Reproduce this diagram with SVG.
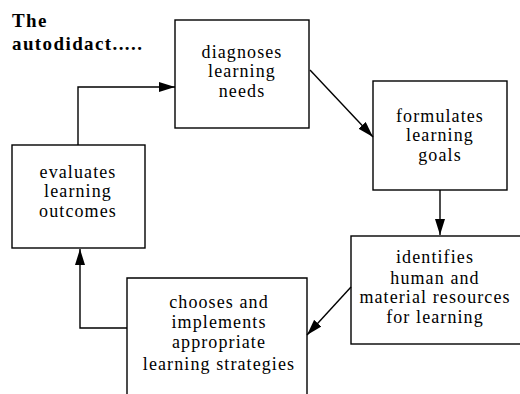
<svg xmlns="http://www.w3.org/2000/svg" width="520" height="394" viewBox="0 0 520 394">
<defs>
<marker id="ah" viewBox="0 0 16 10" refX="16" refY="5" markerWidth="16" markerHeight="10" markerUnits="userSpaceOnUse" orient="auto">
<path d="M0,0 L16,5 L0,10 Z" fill="#000"/>
</marker>
</defs>
<style>
.box{fill:#fff;stroke:#000;stroke-width:1.4}
.lbl{font-family:"Liberation Serif","Times New Roman",serif;font-size:18px;letter-spacing:1.1px;text-anchor:middle;fill:#000}
.ttl{font-family:"Liberation Serif","Times New Roman",serif;font-size:19px;font-weight:bold;letter-spacing:1.4px;fill:#000}
.con{fill:none;stroke:#000;stroke-width:1.4}
</style>
<rect width="520" height="394" fill="#fff"/>
<g id="title">
<text class="ttl" x="12" y="27">The</text>
<text class="ttl" x="12" y="50">autodidact.....</text>
</g>
<g id="diagnoses">
<rect class="box" x="175" y="20" width="134" height="108"/>
<text class="lbl" x="242" y="58">diagnoses</text>
<text class="lbl" x="242" y="77">learning</text>
<text class="lbl" x="242" y="97">needs</text>
</g>
<g id="formulates">
<rect class="box" x="373" y="81" width="134" height="109"/>
<text class="lbl" x="440" y="122">formulates</text>
<text class="lbl" x="440" y="141">learning</text>
<text class="lbl" x="440" y="161">goals</text>
</g>
<g id="identifies">
<rect class="box" x="351" y="236" width="172" height="108"/>
<text class="lbl" x="435" y="263">identifies</text>
<text class="lbl" x="435" y="284">human and</text>
<text class="lbl" x="435" y="303">material resources</text>
<text class="lbl" x="435" y="323">for learning</text>
</g>
<g id="chooses">
<path class="box" d="M127,396 L127,278 L307,278 L307,396"/>
<text class="lbl" x="219" y="308">chooses and</text>
<text class="lbl" x="219" y="328">implements</text>
<text class="lbl" x="219" y="348">appropriate</text>
<text class="lbl" x="219" y="370">learning strategies</text>
</g>
<g id="evaluates">
<rect class="box" x="12" y="145" width="133" height="103"/>
<text class="lbl" x="78" y="178">evaluates</text>
<text class="lbl" x="78" y="197">learning</text>
<text class="lbl" x="78" y="217">outcomes</text>
</g>
<g id="connectors">
<path class="con" d="M310,70 L373,137" marker-end="url(#ah)"/>
<path class="con" d="M440,190 L440,235" marker-end="url(#ah)"/>
<path class="con" d="M351,287 L307,335" marker-end="url(#ah)"/>
<path class="con" d="M127,328 L80,328 L80,249" marker-end="url(#ah)"/>
<path class="con" d="M78,145 L78,87 L175,87" marker-end="url(#ah)"/>
</g>
</svg>
